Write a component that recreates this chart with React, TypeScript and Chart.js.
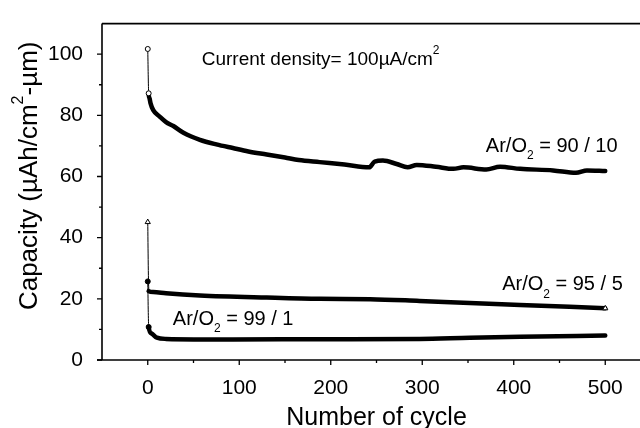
import React, { useEffect, useRef } from 'react';
import { Chart, registerables } from 'chart.js';

Chart.register(...registerables);

// ---- data ----
const cycles9010 = [0, 1, 2, 3, 6, 13, 20, 28, 39, 57, 75, 93, 110, 130, 150, 165, 188, 215, 242, 248, 257, 272, 284, 294, 315, 334, 345, 370, 385, 407, 443, 468, 480, 500];
const capacity9010 = [101.7, 87.2, 85.5, 84, 81.7, 79.6, 77.8, 76.5, 74.3, 72, 70.5, 69.3, 68.2, 67.2, 66.2, 65.4, 64.7, 63.9, 63, 64.9, 65.2, 64.1, 63, 63.8, 63.2, 62.5, 63, 62.3, 63.2, 62.5, 62, 61.2, 62, 61.8];

const cycles955 = [0, 1, 6, 20, 57, 130, 188, 243, 297, 352, 407, 461, 500];
const capacity955 = [45.1, 22.5, 22.2, 21.8, 21.1, 20.4, 20, 19.9, 19.3, 18.6, 18, 17.4, 16.9];

const cycles991 = [0, 1, 4, 10, 20, 93, 188, 297, 352, 407, 500];
const capacity991 = [25.7, 10.8, 8.7, 7.3, 6.9, 6.7, 6.8, 6.9, 7.3, 7.6, 8.0];

const xTicks = [0, 100, 200, 300, 400, 500];
const xMinorTicks = [50, 150, 250, 350, 450];
const yTicks = [0, 20, 40, 60, 80, 100];
const yMinorTicks = [10, 30, 50, 70, 90];

const xTitle = 'Number of cycle';
const yTitleParts: [string, string][] = [['Capacity (\u00b5Ah/cm', 'n'], ['2', 'sup'], ['-\u00b5m)', 'n']];

const notes: { parts: [string, string][]; x: number; y: number; size: number }[] = [
  { parts: [['Current density= 100\u00b5A/cm', 'n'], ['2', 'sup']], x: 59, y: 96.6, size: 19 },
  { parts: [['Ar/O', 'n'], ['2', 'sub'], [' = 90 / 10', 'n']], x: 369.5, y: 68.1, size: 20 },
  { parts: [['Ar/O', 'n'], ['2', 'sub'], [' = 95 / 5', 'n']], x: 387.3, y: 22.9, size: 20 },
  { parts: [['Ar/O', 'n'], ['2', 'sub'], [' = 99 / 1', 'n']], x: 27.4, y: 11.6, size: 20 },
];

const FONT = '"Liberation Sans", Arial, Helvetica, sans-serif';

function richWidth(ctx: CanvasRenderingContext2D, parts: [string, string][], size: number) {
  let w = 0;
  for (const [t, k] of parts) {
    ctx.font = `${k === 'n' ? size : Math.round(size * 0.62)}px ${FONT}`;
    w += ctx.measureText(t).width;
  }
  return w;
}

function drawRich(ctx: CanvasRenderingContext2D, parts: [string, string][], x: number, y: number, size: number) {
  let cx = x;
  ctx.textBaseline = 'alphabetic';
  ctx.textAlign = 'left';
  for (const [t, k] of parts) {
    const s = k === 'n' ? size : Math.round(size * 0.62);
    ctx.font = `${s}px ${FONT}`;
    const dy = k === 'sup' ? -size * 0.55 : k === 'sub' ? size * 0.38 : 0;
    ctx.fillText(t, cx, y + dy);
    cx += ctx.measureText(t).width;
  }
}

const decorPlugin = {
  id: 'decor',
  afterDraw(chart: any) {
    const { ctx, chartArea: a, scales } = chart;
    const xs = scales.x;
    const ys = scales.y;
    ctx.save();
    ctx.strokeStyle = '#000';
    ctx.fillStyle = '#000';
    ctx.lineWidth = 1.6;
    ctx.beginPath();
    ctx.moveTo(a.left, a.top);
    ctx.lineTo(a.right, a.top);
    ctx.moveTo(a.left, a.top);
    ctx.lineTo(a.left, a.bottom);
    ctx.moveTo(a.left - 5, a.bottom);
    ctx.lineTo(a.right, a.bottom);
    ctx.lineTo(a.right, a.top);
    ctx.stroke();
    ctx.lineWidth = 1.3;
    ctx.beginPath();
    for (const v of xTicks) {
      const px = xs.getPixelForValue(v);
      ctx.moveTo(px, a.bottom);
      ctx.lineTo(px, a.bottom + 5);
    }
    for (const v of xMinorTicks) {
      const px = xs.getPixelForValue(v);
      ctx.moveTo(px, a.bottom);
      ctx.lineTo(px, a.bottom + 3);
    }
    for (const v of yTicks) {
      const py = ys.getPixelForValue(v);
      ctx.moveTo(a.left - 5, py);
      ctx.lineTo(a.left, py);
    }
    for (const v of yMinorTicks) {
      const py = ys.getPixelForValue(v);
      ctx.moveTo(a.left - 3, py);
      ctx.lineTo(a.left, py);
    }
    ctx.stroke();

    for (const n of notes) {
      drawRich(ctx, n.parts, xs.getPixelForValue(n.x), ys.getPixelForValue(n.y), n.size);
    }

    // x title
    ctx.font = `25px ${FONT}`;
    ctx.textAlign = 'center';
    ctx.textBaseline = 'alphabetic';
    ctx.fillText(xTitle, (a.left + a.right) / 2, 425);

    // y title
    const ySize = 26;
    const w = richWidth(ctx, yTitleParts, ySize);
    ctx.save();
    ctx.translate(37, (a.top + a.bottom) / 2 - 16);
    ctx.rotate(-Math.PI / 2);
    drawRich(ctx, yTitleParts, -w / 2, 0, ySize);
    ctx.restore();
    ctx.restore();
  },
};

function thinFirst(ctx: any) {
  return ctx.p0DataIndex === 0 ? 1 : 4.5;
}

export default function App() {
  const ref = useRef<HTMLCanvasElement | null>(null);
  useEffect(() => {
    document.body.style.margin = '0';
    const canvas = ref.current!;
    const chart = new Chart(canvas, {
      type: 'line',
      data: {
        datasets: [
          {
            label: 'Ar/O2 = 90 / 10',
            data: cycles9010.map((c, i) => ({ x: c, y: capacity9010[i] })),
            borderColor: '#000',
            backgroundColor: '#fff',
            pointBorderColor: '#000',
            pointStyle: 'circle',
            pointRadius: (c: any) => (c.dataIndex < 2 ? 2.5 : 0),
            pointBorderWidth: 1,
            segment: { borderWidth: thinFirst },
            borderWidth: 4.5,
            borderJoinStyle: 'round',
            borderCapStyle: 'round',
            cubicInterpolationMode: 'monotone',
          },
          {
            label: 'Ar/O2 = 95 / 5',
            data: cycles955.map((c, i) => ({ x: c, y: capacity955[i] })),
            borderColor: '#000',
            backgroundColor: '#fff',
            pointBorderColor: '#000',
            pointStyle: 'triangle',
            pointRadius: (c: any) => (c.dataIndex === 0 || c.dataIndex === cycles955.length - 1 ? 3 : 0),
            pointBorderWidth: 1,
            segment: { borderWidth: thinFirst },
            borderWidth: 4.5,
            borderJoinStyle: 'round',
            borderCapStyle: 'round',
            cubicInterpolationMode: 'monotone',
          },
          {
            label: 'Ar/O2 = 99 / 1',
            data: cycles991.map((c, i) => ({ x: c, y: capacity991[i] })),
            borderColor: '#000',
            backgroundColor: '#000',
            pointBorderColor: '#000',
            pointStyle: 'circle',
            pointRadius: (c: any) => (c.dataIndex < 2 ? 2.5 : 0),
            pointBorderWidth: 1,
            segment: { borderWidth: thinFirst },
            borderWidth: 4,
            borderJoinStyle: 'round',
            borderCapStyle: 'round',
            cubicInterpolationMode: 'monotone',
          },
        ],
      },
      options: {
        responsive: false,
        animation: false,
        events: [],
        layout: { padding: { top: 14, right: 9, left: 0, bottom: 0 } },
        plugins: { legend: { display: false }, tooltip: { enabled: false } },
        scales: {
          x: {
            type: 'linear',
            min: -50,
            max: 550,
            grid: { display: false },
            border: { display: false },
            afterBuildTicks: (s: any) => {
              s.ticks = xTicks.map((v) => ({ value: v }));
            },
            afterFit: (s: any) => {
              s.height = 68;
            },
            ticks: {
              color: '#000',
              font: { size: 21, family: FONT },
              padding: 8,
              maxRotation: 0,
              autoSkip: false,
              callback: (v: any) => String(v),
            },
          },
          y: {
            type: 'linear',
            min: 0,
            max: 110,
            grid: { display: false },
            border: { display: false },
            afterBuildTicks: (s: any) => {
              s.ticks = yTicks.map((v) => ({ value: v }));
            },
            afterFit: (s: any) => {
              s.width = 102;
            },
            ticks: {
              color: '#000',
              font: { size: 21, family: FONT },
              padding: 11,
              autoSkip: false,
              callback: (v: any) => String(v),
            },
          },
        },
      },
      plugins: [decorPlugin],
    } as any);
    return () => chart.destroy();
  }, []);
  return (
    <div style={{ width: 640, height: 428, overflow: 'hidden', background: '#fff' }}>
      <canvas ref={ref} width={660} height={428} style={{ display: 'block' }} />
    </div>
  );
}
